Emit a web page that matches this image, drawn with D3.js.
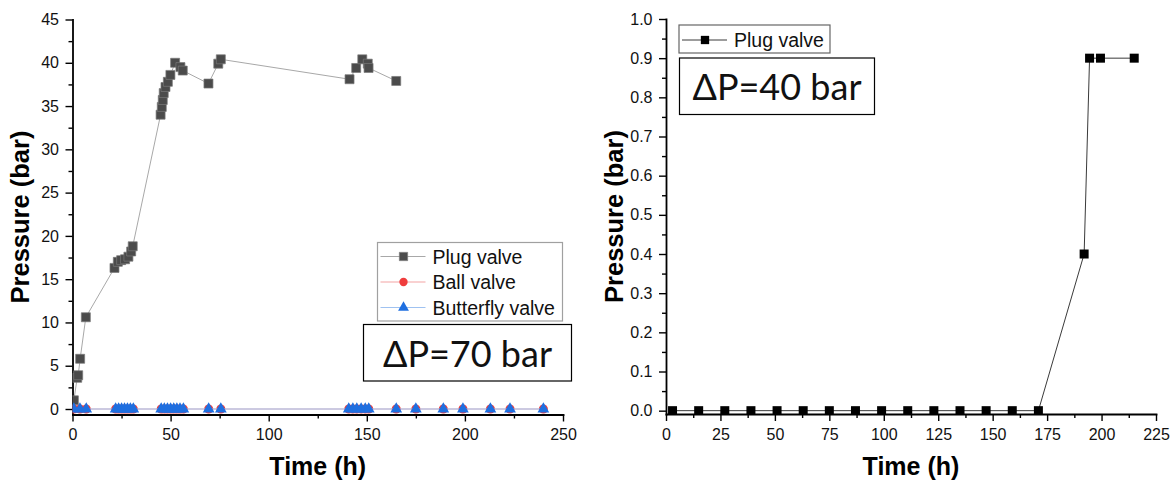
<!DOCTYPE html>
<html><head><meta charset="utf-8">
<script src="https://cdn.jsdelivr.net/npm/d3@7"></script>
<style>
html,body{margin:0;padding:0;background:#fff;}
svg{display:block;}
</style></head><body>
<svg id="chart" width="1173" height="484"></svg>
<script>
// ---- ΔP = 70 bar run: pressure downstream of each valve ----
const plugTime70 = [0.7, 2.4, 2.9, 3.9, 6.8, 21.4, 23.1, 24.8, 26.8, 28.5, 29.9, 30.7,
  44.9, 45.5, 46.0, 46.5, 47.4, 48.6, 49.9, 52.3, 55.0, 56.2, 69.3, 74.3, 75.6,
  141.2, 144.6, 147.7, 150.5, 150.9, 165.0];
const plugPressure70 = [1.0, 3.6, 3.9, 5.8, 10.6, 16.3, 17.0, 17.2, 17.3, 17.6, 18.2, 18.8,
  34.0, 34.9, 35.7, 36.5, 37.2, 37.8, 38.6, 40.0, 39.5, 39.1, 37.6, 39.9, 40.4,
  38.1, 39.4, 40.4, 39.9, 39.4, 37.9];

const ballTime70 = [0.7, 3.8, 7.0, 22, 23.5, 25, 26.5, 28, 29.5, 31,
  45.2, 46.8, 48.4, 50, 51.6, 53.2, 54.8, 56.5, 69.4, 75.6,
  140.8, 142.9, 144.9, 147.1, 149.2, 151, 165, 175, 189, 199, 213, 223, 240];
const ballPressure70 = [0, 0, 0, 0, 0, 0, 0, 0, 0, 0,
  0, 0, 0, 0, 0, 0, 0, 0, 0, 0,
  0, 0, 0, 0, 0, 0, 0, 0, 0, 0, 0, 0, 0];

const butterflyTime70 = [0.7, 3.8, 7.0, 22, 23.5, 25, 26.5, 28, 29.5, 31,
  45.2, 46.8, 48.4, 50, 51.6, 53.2, 54.8, 56.5, 69.4, 75.6,
  140.8, 142.9, 144.9, 147.1, 149.2, 151, 165, 175, 189, 199, 213, 223, 240];
const butterflyPressure70 = [0, 0, 0, 0, 0, 0, 0, 0, 0, 0,
  0, 0, 0, 0, 0, 0, 0, 0, 0, 0,
  0, 0, 0, 0, 0, 0, 0, 0, 0, 0, 0, 0, 0];

// ---- ΔP = 40 bar run: plug valve only ----
const plugTime40 = [3, 15, 27, 39, 51, 63, 75, 87, 99, 111, 123, 135, 147, 159, 171, 192, 194.5, 199.5, 215];
const plugPressure40 = [0, 0, 0, 0, 0, 0, 0, 0, 0, 0, 0, 0, 0, 0, 0, 0.4, 0.9, 0.9, 0.9];

// ---- axis ticks and labels ----
const timeTicks70 = [0, 50, 100, 150, 200, 250];
const timeMinor70 = [25, 75, 125, 175, 225];
const pressureTicks70 = [0, 5, 10, 15, 20, 25, 30, 35, 40, 45];
const pressureMinor70 = [2.5, 7.5, 12.5, 17.5, 22.5, 27.5, 32.5, 37.5, 42.5];
const timeTicks40 = [0, 25, 50, 75, 100, 125, 150, 175, 200, 225];
const timeMinor40 = [12.5, 37.5, 62.5, 87.5, 112.5, 137.5, 162.5, 187.5, 212.5];
const pressureTicks40 = [0, 0.1, 0.2, 0.3, 0.4, 0.5, 0.6, 0.7, 0.8, 0.9, 1.0];
const pressureMinor40 = [0.05, 0.15, 0.25, 0.35, 0.45, 0.55, 0.65, 0.75, 0.85, 0.95];

const seriesNames70 = ["Plug valve", "Ball valve", "Butterfly valve"];
const seriesNames40 = ["Plug valve"];
const note70 = "ΔP=70 bar";
const note40 = "ΔP=40 bar";
const xTitle = "Time (h)";
const yTitle = "Pressure (bar)";

const svg = d3.select("#chart");
const FONT = "'Liberation Sans', Arial, Helvetica, sans-serif";
const NOTE_FONT = "Lato, Carlito, Calibri, 'Open Sans', sans-serif";

function drawPanel(p) {
  const g = svg.append("g");
  const x = d3.scaleLinear().domain(p.xDomain).range(p.xRange);
  const y = d3.scaleLinear().domain(p.yDomain).range(p.yRange);
  const bottom = p.yRange[0];
  const left = p.xRange[0];

  // clip marks to the left edge of the frame
  const clipId = "clip-" + p.id;
  g.append("clipPath").attr("id", clipId).append("rect")
    .attr("x", left).attr("y", 0)
    .attr("width", p.xRange[1] - left + 20).attr("height", bottom);

  const styleAxis = sel => {
    sel.selectAll(".domain").attr("stroke", "#000").attr("stroke-width", 1.8).attr("stroke-linecap", "square");
    sel.selectAll(".tick line").attr("stroke", "#000").attr("stroke-width", 1.4);
    sel.selectAll(".tick text").attr("font-family", FONT).attr("font-size", 16).attr("fill", "#111");
  };

  // minor ticks
  g.append("g").attr("transform", `translate(0,${bottom})`)
    .call(d3.axisBottom(x).tickValues(p.xMinor).tickSize(4).tickFormat("").tickSizeOuter(0))
    .call(s => s.select(".domain").remove()).call(styleAxis);
  g.append("g").attr("transform", `translate(${left},0)`)
    .call(d3.axisLeft(y).tickValues(p.yMinor).tickSize(4).tickFormat("").tickSizeOuter(0))
    .call(s => s.select(".domain").remove()).call(styleAxis);

  // major axes
  g.append("g").attr("transform", `translate(0,${bottom})`)
    .call(d3.axisBottom(x).tickValues(p.xTicks).tickSize(7).tickPadding(7.5).tickSizeOuter(0).tickFormat(p.xFormat))
    .call(styleAxis);
  g.append("g").attr("transform", `translate(${left},0)`)
    .call(d3.axisLeft(y).tickValues(p.yTicks).tickSize(7).tickPadding(6.5).tickSizeOuter(0).tickFormat(p.yFormat))
    .call(styleAxis);

  // axis titles
  g.append("text").attr("x", (p.xRange[0] + p.xRange[1]) / 2).attr("y", 475)
    .attr("text-anchor", "middle").attr("font-family", FONT).attr("font-weight", "bold")
    .attr("font-size", 25).text(xTitle);
  const ty = (p.yRange[0] + p.yRange[1]) / 2;
  g.append("text").attr("transform", `translate(${left - 43.5},${ty}) rotate(-90)`)
    .attr("text-anchor", "middle").attr("font-family", FONT).attr("font-weight", "bold")
    .attr("font-size", 25.5).text(yTitle);

  // series
  const plot = g.append("g").attr("clip-path", `url(#${clipId})`);
  p.series.forEach(s => {
    const pts = s.t.map((t, i) => [t, s.v[i]]);
    plot.append("path").datum(pts)
      .attr("d", d3.line().x(d => x(d[0])).y(d => y(d[1])))
      .attr("fill", "none").attr("stroke", s.line).attr("stroke-width", 1);
    plot.selectAll(null).data(pts).join("path")
      .attr("transform", d => `translate(${x(d[0])},${y(d[1])})`)
      .attr("d", d3.symbol().type(s.symbol).size(s.size)())
      .attr("fill", s.fill).attr("stroke", s.stroke || "none").attr("stroke-width", 0.7);
  });

  // legend
  const L = p.legend;
  const lg = g.append("g");
  lg.append("rect").attr("x", L.x).attr("y", L.y).attr("width", L.w).attr("height", L.h)
    .attr("fill", "#fff").attr("stroke", L.border).attr("stroke-width", 1.2);
  p.series.forEach((s, i) => {
    const cy = L.y + L.first + i * L.step;
    lg.append("line").attr("x1", L.x + 3).attr("x2", L.x + 48).attr("y1", cy).attr("y2", cy)
      .attr("stroke", s.line).attr("stroke-width", 1);
    lg.append("path").attr("transform", `translate(${L.x + 26},${cy})`)
      .attr("d", d3.symbol().type(s.symbol).size(s.size * 0.85)())
      .attr("fill", s.fill).attr("stroke", s.stroke || "none").attr("stroke-width", 0.7);
    lg.append("text").attr("x", L.x + 55).attr("y", cy + 7)
      .attr("font-family", FONT).attr("font-size", 19.5).attr("fill", "#111").text(p.names[i]);
  });

  // condition box
  const N = p.note;
  g.append("rect").attr("x", N.x).attr("y", N.y).attr("width", N.w).attr("height", N.h)
    .attr("fill", "#fff").attr("stroke", "#000").attr("stroke-width", 1.2);
  g.append("text").attr("x", N.x + N.w / 2).attr("y", N.y + N.h - 14.5)
    .attr("text-anchor", "middle").attr("font-family", NOTE_FONT).attr("font-size", 36)
    .attr("fill", "#111").text(N.text);
}

drawPanel({
  id: "a",
  xDomain: [0, 250], xRange: [72.5, 563],
  yDomain: [-0.635, 45], yRange: [414.5, 19.5],
  xTicks: timeTicks70, xMinor: timeMinor70, yTicks: pressureTicks70, yMinor: pressureMinor70,
  xFormat: d3.format("d"), yFormat: d3.format("d"),
  names: seriesNames70,
  series: [
    { t: plugTime70, v: plugPressure70, line: "#a8a8a8", symbol: d3.symbolSquare, size: 81, fill: "#4b4b4b", stroke: "#7a7a7a" },
    { t: ballTime70, v: ballPressure70, line: "#f3a3a3", symbol: d3.symbolCircle, size: 64, fill: "#ef3d3d" },
    { t: butterflyTime70, v: butterflyPressure70, line: "#9fc2f1", symbol: d3.symbolTriangle, size: 60, fill: "#1f6fe0" }
  ],
  legend: { x: 377.5, y: 242.5, w: 185, h: 78.5, first: 14, step: 25.5, border: "#a0a0a0" },
  note: { x: 363.5, y: 324.5, w: 208, h: 56.5, text: note70 }
});

drawPanel({
  id: "b",
  xDomain: [0, 225], xRange: [666, 1156],
  yDomain: [-0.0085, 1], yRange: [414, 19],
  xTicks: timeTicks40, xMinor: timeMinor40, yTicks: pressureTicks40, yMinor: pressureMinor40,
  xFormat: d3.format("d"), yFormat: d3.format(".1f"),
  names: seriesNames40,
  series: [
    { t: plugTime40, v: plugPressure40, line: "#3a3a3a", symbol: d3.symbolSquare, size: 81, fill: "#000" }
  ],
  legend: { x: 679, y: 25, w: 151, h: 28, first: 15, step: 25, border: "#666" },
  note: { x: 679.5, y: 58, w: 195, h: 56.5, text: note40 }
});
</script>
</body></html>
